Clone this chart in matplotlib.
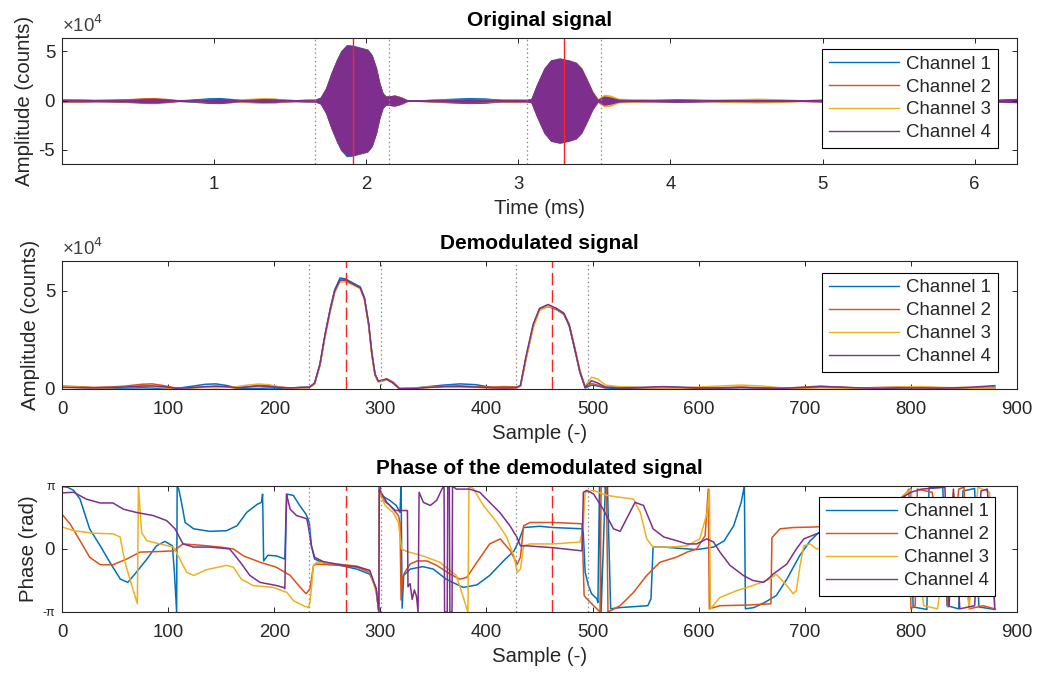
import numpy as np
import matplotlib
matplotlib.use('Agg')
import matplotlib.pyplot as plt
from matplotlib.ticker import FixedLocator

plt.rcParams['font.family'] = ['Liberation Sans', 'DejaVu Sans']

# ---------------- data ----------------
SAMPLES_PER_MS = 140.0

channel_names = ['Channel 1', 'Channel 2', 'Channel 3', 'Channel 4']
channel_colors = ['#0072BD', '#D95319', '#EDB120', '#7E2F8E']

# demodulated amplitude (x 1e4 counts) at these sample indices
amp_samples = [0, 15, 30, 45, 60, 75, 85, 95, 107, 120, 135, 145, 155, 165, 175, 185, 195, 205, 215, 225,
               233, 238, 243, 248, 253, 257, 262, 267, 274, 281, 285, 289, 292, 295, 298, 302, 306, 312, 318,
               330, 345, 360, 375, 390, 405, 418, 428, 432, 437, 444, 450, 458, 466, 473, 478, 483, 488, 493,
               499, 505, 512, 525, 545, 565, 580, 600, 620, 640, 660, 680, 700, 715, 730, 750, 770, 790, 810,
               830, 850, 865, 879]
amp_ch1 = [0.10, 0.08, 0.05, 0.03, 0.05, 0.06, 0.05, 0.03, 0.02, 0.12, 0.24, 0.26, 0.18, 0.05, 0.02, 0.03, 0.05, 0.04, 0.05, 0.08,
           0.08, 0.30, 1.25, 2.80, 4.15, 5.05, 5.65, 5.60, 5.40, 5.20, 4.65, 3.30, 1.80, 0.75, 0.38, 0.42, 0.50, 0.32, 0.02,
           0.03, 0.12, 0.20, 0.26, 0.22, 0.08, 0.04, 0.05, 0.15, 1.50, 3.20, 4.05, 4.20, 4.05, 3.80, 3.20, 2.05, 0.85, 0.05,
           0.20, 0.15, 0.05, 0.03, 0.05, 0.10, 0.08, 0.03, 0.05, 0.08, 0.05, 0.02, 0.06, 0.10, 0.08, 0.05, 0.03, 0.05, 0.08,
           0.06, 0.04, 0.06, 0.10]
amp_ch2 = [0.15, 0.12, 0.08, 0.10, 0.15, 0.24, 0.26, 0.18, 0.05, 0.06, 0.10, 0.12, 0.10, 0.05, 0.12, 0.20, 0.18, 0.10, 0.05, 0.07,
           0.08, 0.25, 1.20, 2.75, 4.10, 5.00, 5.50, 5.50, 5.35, 5.15, 4.60, 3.25, 1.75, 0.70, 0.40, 0.45, 0.52, 0.35, 0.03,
           0.05, 0.08, 0.14, 0.16, 0.12, 0.10, 0.12, 0.10, 0.15, 1.50, 3.20, 4.05, 4.20, 4.05, 3.80, 3.25, 2.10, 0.90, 0.10,
           0.28, 0.20, 0.08, 0.10, 0.06, 0.05, 0.06, 0.04, 0.07, 0.10, 0.06, 0.04, 0.10, 0.15, 0.10, 0.05, 0.08, 0.10, 0.07,
           0.05, 0.08, 0.06, 0.04]
amp_ch3 = [0.12, 0.10, 0.04, 0.06, 0.10, 0.15, 0.12, 0.06, 0.02, 0.05, 0.08, 0.06, 0.08, 0.12, 0.20, 0.25, 0.22, 0.10, 0.03, 0.06,
           0.07, 0.25, 1.20, 2.70, 4.00, 4.90, 5.45, 5.45, 5.30, 5.10, 4.55, 3.20, 1.70, 0.70, 0.35, 0.40, 0.48, 0.30, 0.02,
           0.04, 0.10, 0.12, 0.10, 0.08, 0.06, 0.04, 0.05, 0.14, 1.45, 3.10, 4.00, 4.20, 4.10, 3.85, 3.30, 2.15, 0.95, 0.15,
           0.60, 0.50, 0.20, 0.12, 0.08, 0.06, 0.05, 0.10, 0.15, 0.20, 0.15, 0.05, 0.04, 0.06, 0.05, 0.04, 0.06, 0.10, 0.12,
           0.08, 0.05, 0.04, 0.05]
amp_ch4 = [0.08, 0.07, 0.06, 0.08, 0.10, 0.15, 0.16, 0.12, 0.04, 0.06, 0.12, 0.15, 0.12, 0.06, 0.10, 0.15, 0.13, 0.08, 0.05, 0.08,
           0.09, 0.30, 1.25, 2.80, 4.10, 5.00, 5.55, 5.55, 5.35, 5.15, 4.60, 3.30, 1.80, 0.75, 0.40, 0.45, 0.50, 0.30, 0.01,
           0.02, 0.08, 0.12, 0.13, 0.10, 0.06, 0.05, 0.07, 0.18, 1.60, 3.30, 4.10, 4.30, 4.10, 3.85, 3.25, 2.10, 0.90, 0.08,
           0.42, 0.30, 0.10, 0.05, 0.08, 0.12, 0.10, 0.06, 0.05, 0.07, 0.05, 0.04, 0.08, 0.12, 0.10, 0.06, 0.04, 0.06, 0.05,
           0.05, 0.07, 0.12, 0.17]

# phase of the demodulated signal (in units of pi)
phase_s_ch1 = [0, 5, 11, 17, 26, 36, 45, 55, 62, 70, 80, 89, 97, 104, 106, 108, 108.5, 110, 113, 116, 124, 139, 155, 165,
               174, 184, 188, 189, 190, 194, 202, 210, 211, 212, 218, 224, 230, 233, 235, 238, 246, 262, 278, 290,
               296, 298.5, 299, 301, 309, 315, 318.5, 319.5, 320.5, 322, 328, 340, 350, 362, 378, 391, 403, 416,
               426, 430.5, 435, 450, 463, 491, 493, 496, 499, 504, 505, 506.5, 508, 512, 513, 514, 517, 526, 552,
               555, 557, 567, 582, 598, 614, 624, 633, 640, 643, 644, 652, 662, 673, 683, 695, 705, 713, 740, 770,
               790, 800, 802, 815, 817, 830, 834, 845, 849, 860, 864, 879]
phase_v_ch1 = [0.99, 0.98, 0.93, 0.79, 0.32, 0.05, -0.21, -0.48, -0.53, -0.37, -0.16, 0.05, 0.12, 0.05, -0.40, -1.0, 1.0, 0.95,
               0.70, 0.42, 0.32, 0.28, 0.29, 0.37, 0.58, 0.71, 0.74, 0.87, -0.19, -0.10, -0.11, -0.16, 0.50, 0.87, 0.85,
               0.69, 0.55, 0.42, 0.05, -0.16, -0.22, -0.26, -0.32, -0.40, -0.63, -1.0, 1.0, 0.85, 0.77, 0.69, 0.58, 1.0,
               -0.94, -0.42, -0.32, -0.28, -0.32, -0.48, -0.61, -0.57, -0.42, -0.19, -0.03, 0.13, 0.34, 0.36, 0.34, 0.32,
               -0.37, -0.58, -0.71, -0.79, -0.85, 1.0, -1.0, 0.98, 0.90, 0.98, -0.95, -0.93, -0.90, -0.79, 0.03, 0.03,
               0.01, -0.01, 0.03, 0.13, 0.37, 0.74, 1.0, -0.95, -0.93, -0.85, -0.74, -0.48, -0.11, 0.13, 0.26, 0.38,
               0.55, 0.80, 0.96, -0.92, -0.96, 0.97, 0.98, -0.90, -0.95, 0.92, 0.96, -0.92, -0.96]

phase_s_ch2 = [0, 7.5, 17, 26, 36, 48, 61, 73.5, 92, 105, 114, 130, 149, 161.5, 171, 186.6, 202, 215, 224, 230, 233.7,
               237, 240, 262, 278, 290, 296, 298.5, 299, 300, 303, 309, 317, 318.5, 319.5, 321, 323, 328, 334.5, 344,
               353, 366, 375, 381.5, 391, 403, 413, 422.5, 429, 432, 435, 441, 463, 490, 492, 494.5, 501, 507, 508,
               513, 514.5, 526, 538.5, 551, 563.5, 579, 589, 598, 606, 609, 610, 620, 646, 668, 669, 676.6, 689, 711,
               740, 770, 790, 798, 800, 804, 806, 820, 835, 845, 850, 855, 868, 879]
phase_v_ch2 = [0.55, 0.40, 0.13, -0.13, -0.25, -0.25, -0.16, -0.05, -0.04, -0.03, 0.08, 0.06, 0.03, 0.0, -0.11, -0.21, -0.29,
               -0.42, -0.60, -0.71, -0.63, -0.26, -0.24, -0.26, -0.29, -0.37, -0.63, -1.0, 1.0, 0.90, 0.77, 0.69, 0.53,
               0.42, -0.81, -0.45, -0.37, -0.24, -0.19, -0.19, -0.26, -0.40, -0.48, -0.45, -0.21, 0.08, 0.16, -0.03,
               -0.24, -0.13, 0.37, 0.42, 0.42, 0.40, -0.74, -0.79, -0.90, -1.0, 1.0, 0.98, -1.0, -0.90, -0.69, -0.42,
               -0.21, -0.13, -0.05, 0.0, 0.21, 0.95, -0.95, -0.90, -0.89, -0.87, 0.18, 0.32, 0.34, 0.35, 0.40, 0.50,
               0.70, 0.95, -0.95, -0.90, 0.95, 0.90, -0.92, 0.95, 0.98, -0.95, -0.90, -0.95]

phase_s_ch3 = [0, 11, 29.5, 48, 54.7, 59.4, 65.7, 71, 72, 75, 80, 92, 105, 111, 117.5, 124, 136, 155, 161.5, 169, 180, 199,
               212, 218, 227.5, 232, 233.7, 237, 240, 262, 278, 290, 296, 298.5, 299, 304.5, 312, 317, 320, 325, 340,
               356, 371.5, 382.5, 383.5, 388, 397, 410, 419, 425.8, 429, 432, 435, 441, 463, 488, 491, 493, 501, 513.5,
               526, 538.6, 545, 551, 557, 573, 589, 601, 608, 610, 611, 620, 636, 651, 667, 673, 683, 689, 692, 695.5,
               699, 705, 711, 740, 770, 790, 800, 812, 825, 840, 855, 863, 874, 879]
phase_v_ch3 = [0.35, 0.29, 0.25, 0.24, 0.19, -0.21, -0.58, -0.87, 1.0, 0.26, 0.13, 0.08, 0.03, -0.16, -0.37, -0.42, -0.33,
               -0.26, -0.29, -0.48, -0.58, -0.61, -0.69, -0.82, -0.90, -0.93, -0.85, -0.26, -0.21, -0.24, -0.27, -0.35,
               -0.69, -0.97, 0.90, 0.69, 0.58, 0.42, 0.0, -0.04, -0.11, -0.21, -0.42, -1.0, 1.0, 0.95, 0.69, 0.42, 0.19,
               -0.11, -0.37, -0.32, 0.05, 0.08, 0.08, 0.11, 0.32, 0.90, 0.93, 0.85, 0.82, 0.79, 0.58, 0.16, 0.03, 0.03,
               0.05, 0.16, 0.58, 0.95, -0.95, -0.77, -0.66, -0.58, -0.48, -0.40, -0.58, -0.71, -0.66, -0.26, 0.05, 0.08,
               0.0, 0.10, 0.40, 0.80, 0.95, -0.90, -0.95, 0.90, -0.95, 0.98, 0.90, -0.90]

phase_s_ch4 = [0, 11, 23, 36, 48, 58, 70, 86, 98.6, 106.5, 114, 124, 139.5, 158, 168, 177, 186.6, 202, 208.6, 210, 211.5,
               215, 221, 230.6, 232, 235, 238, 246, 262, 278, 290, 296, 298.5, 299, 306, 314, 325.5, 326, 328, 330, 332,
               334, 335.5, 336.5, 340.5, 347, 353, 358, 360, 360.5, 363, 363.5, 365, 365.5, 367.5, 368, 371.5, 384,
               393.6, 403, 412.5, 422, 428.6, 432, 438, 463, 490, 491.3, 494.5, 501, 510, 519.6, 526, 532, 540, 548,
               557, 567, 579.5, 589, 598, 607.5, 614, 620, 629.5, 642, 651, 661, 667, 670, 683, 692, 699, 711, 740,
               770, 790, 800, 810, 832, 836, 840, 846, 860, 866, 872, 879]
phase_v_ch4 = [0.89, 0.90, 0.79, 0.73, 0.73, 0.63, 0.58, 0.53, 0.45, 0.32, 0.08, 0.03, 0.03, 0.0, -0.21, -0.42, -0.53, -0.58,
               -0.61, -0.63, 0.87, 0.63, 0.53, 0.48, 0.37, 0.05, -0.13, -0.20, -0.25, -0.28, -0.34, -0.63, -0.98, 0.95,
               0.74, 0.61, 0.61, -0.60, -0.55, -0.80, -0.65, -0.75, -1.0, 0.90, 0.74, 0.69, 0.77, 0.95, 1.0, -1.0, -1.0,
               1.0, 1.0, -1.0, -1.0, 1.0, 0.95, 0.95, 0.90, 0.74, 0.58, 0.37, 0.19, 0.05, 0.05, 0.02, -0.03, 0.90, 0.93,
               0.87, 0.63, 0.32, 0.28, 0.48, 0.74, 0.69, 0.32, 0.19, 0.13, 0.08, 0.08, 0.16, 0.11, -0.05, -0.26, -0.42,
               -0.50, -0.53, -0.45, -0.40, -0.24, 0.0, 0.16, 0.24, 0.35, 0.55, 0.80, 0.90, 0.95, 0.98, -0.90, 0.95,
               -0.95, -0.90, 0.92, 0.95, -0.95]

boundary_samples = [233, 301, 428, 496]   # gray dotted markers
peak_samples = [268, 462]                 # red dashed markers

amp_series = [amp_ch1, amp_ch2, amp_ch3, amp_ch4]
phase_samples = [phase_s_ch1, phase_s_ch2, phase_s_ch3, phase_s_ch4]
phase_values = [phase_v_ch1, phase_v_ch2, phase_v_ch3, phase_v_ch4]

# ---------------- styling helpers ----------------
AX_COLOR = '#262626'
TICK_FS = 13.4
LABEL_FS = 14.7
TITLE_FS = 15
DOT_STYLE = dict(color='0.55', ls=(0, (1.2, 2.2)), lw=0.9)
RED_DASH = (0, (9, 3.5))


def style_axes(ax):
    for sp in ax.spines.values():
        sp.set_color(AX_COLOR)
        sp.set_linewidth(0.8)
    ax.tick_params(direction='in', top=True, right=True, length=3.8, width=0.7,
                   colors=AX_COLOR, labelsize=TICK_FS, pad=5)
    ax.tick_params(axis='x', pad=9)


def add_legend(ax, top_frac, right_frac):
    handles = [ax.plot([], [], color=c, lw=1.0)[0] for c in channel_colors]
    leg = ax.legend(handles, channel_names, loc='upper right', bbox_to_anchor=(right_frac, top_frac),
                    borderaxespad=0, fontsize=TICK_FS, handlelength=3.8, handletextpad=0.37,
                    borderpad=0.35, labelspacing=0.32, fancybox=False, edgecolor='k', framealpha=1)
    leg.get_frame().set_linewidth(0.8)
    for t in leg.get_texts():
        t.set_color(AX_COLOR)


fig = plt.figure(figsize=(10.39, 6.79), dpi=100)
ax1 = fig.add_axes([0.0597, 0.7585, 0.9192, 0.186])
ax2 = fig.add_axes([0.0597, 0.4271, 0.9192, 0.189])
ax3 = fig.add_axes([0.0597, 0.0987, 0.9192, 0.1856])

s_amp = np.array(amp_samples, dtype=float)

# ---- Original signal (oscillating bursts drawn as their envelopes) ----
t = s_amp / SAMPLES_PER_MS
for vals, c in zip(amp_series, channel_colors):
    env = np.array(vals) * 1e4
    ax1.fill_between(t, -env, env, color=c, lw=0.8, edgecolor=c)
for s in boundary_samples:
    ax1.axvline(s / SAMPLES_PER_MS, **DOT_STYLE)
for s in peak_samples:
    ax1.axvline(s / SAMPLES_PER_MS, color='#FF2020', ls='-', lw=1.0)
ax1.set_xlim(0, s_amp[-1] / SAMPLES_PER_MS)
ax1.set_ylim(-6.45e4, 6.4e4)
ax1.xaxis.set_major_locator(FixedLocator([1, 2, 3, 4, 5, 6]))
ax1.set_yticks([-5e4, 0, 5e4])
ax1.set_yticklabels(['-5', '0', '5'])
ax1.set_title('Original signal', fontweight='bold', fontsize=TITLE_FS, pad=8.5, color='k')
ax1.set_xlabel('Time (ms)', fontsize=LABEL_FS, color=AX_COLOR, labelpad=4)
ax1.set_ylabel('Amplitude (counts)', fontsize=LABEL_FS, color=AX_COLOR, labelpad=3)
ax1.text(0, 1.015, '×10$^{4}$', transform=ax1.transAxes, fontsize=TICK_FS, color='#404040',
         ha='left', va='bottom')
style_axes(ax1)
add_legend(ax1, 0.9105, 0.9797)

# ---- Demodulated signal ----
for vals, c in zip(amp_series, channel_colors):
    ax2.plot(s_amp, np.array(vals) * 1e4, color=c, lw=1.1)
for s in boundary_samples:
    ax2.axvline(s, **DOT_STYLE)
for s in peak_samples:
    ax2.axvline(s, color='#FF2020', ls=RED_DASH, lw=1.0)
ax2.set_xlim(0, 900)
ax2.set_ylim(0, 6.53e4)
ax2.set_xticks(np.arange(0, 901, 100))
ax2.set_yticks([0, 5e4])
ax2.set_yticklabels(['0', '5'])
ax2.set_title('Demodulated signal', fontweight='bold', fontsize=TITLE_FS, pad=8.5, color='k')
ax2.set_xlabel('Sample (-)', fontsize=LABEL_FS, color=AX_COLOR, labelpad=4)
ax2.set_ylabel('Amplitude (counts)', fontsize=LABEL_FS, color=AX_COLOR, labelpad=3)
ax2.text(0, 1.015, '×10$^{4}$', transform=ax2.transAxes, fontsize=TICK_FS, color='#404040',
         ha='left', va='bottom')
style_axes(ax2)
add_legend(ax2, 0.9065, 0.9797)

# ---- Phase ----
for ss, vv, c in zip(phase_samples, phase_values, channel_colors):
    ax3.plot(ss, np.array(vv) * np.pi, color=c, lw=1.1)
for s in boundary_samples:
    ax3.axvline(s, **DOT_STYLE)
for s in peak_samples:
    ax3.axvline(s, color='#FF2020', ls=RED_DASH, lw=1.0)
ax3.set_xlim(0, 900)
ax3.set_ylim(-np.pi, np.pi)
ax3.set_xticks(np.arange(0, 901, 100))
ax3.set_yticks([-np.pi, 0, np.pi])
ax3.set_yticklabels(['-π', '0', 'π'])
ax3.set_title('Phase of the demodulated signal', fontweight='bold', fontsize=TITLE_FS, pad=8.5, color='k')
ax3.set_xlabel('Sample (-)', fontsize=LABEL_FS, color=AX_COLOR, labelpad=4)
ax3.set_ylabel('Phase (rad)', fontsize=LABEL_FS, color=AX_COLOR, labelpad=3)
style_axes(ax3)
for lbl in ax3.get_yticklabels():
    if lbl.get_text() != '0':
        lbl.set_fontsize(9)
add_legend(ax3, 0.915, 0.977)

fig.savefig('out.png', dpi=100)
